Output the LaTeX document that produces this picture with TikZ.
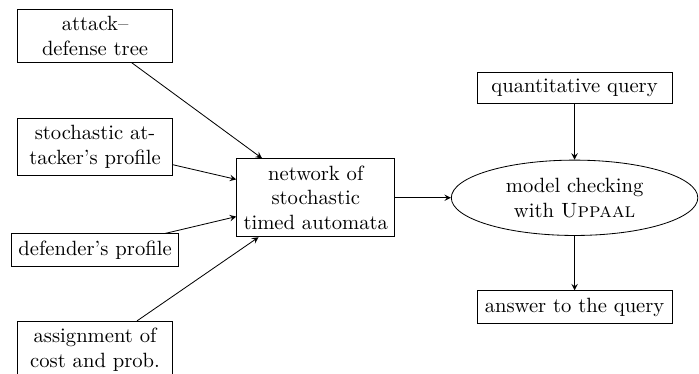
\documentclass[tikz,border=0pt]{standalone}
\usepackage{amsmath, amssymb}
\usepackage{tikz}
\usetikzlibrary{shapes.geometric}

\begin{document}
\begin{tikzpicture}[
  inbox/.style={draw, align=center, minimum width=2.64cm},
  outbox/.style={draw, align=center, minimum width=3.32cm},
  mcbox/.style={draw, ellipse, align=center, minimum width=4.2cm, minimum height=1.24cm},
  flow/.style={-stealth}]
  \clip (0,0) rectangle (11.91,-6.37);
  % inputs on the left
  \node[inbox] (ADT) at (1.62,-0.61) {attack--\\defense tree};
  \node[inbox] (ATK) at (1.62,-2.50) {stochastic at-\\tacker's profile};
  \node[draw] (DEF) at (1.62,-4.26) {defender's profile};
  \node[inbox] (COST) at (1.62,-5.96) {assignment of\\cost and prob.};
  % the model
  \node[draw, align=center] (NSTA) at (5.38,-3.37) {network of\\stochastic\\timed automata};
  \node[mcbox] (MC) at (9.79,-3.37) {model checking\\with \textsc{Uppaal}};
  \node[outbox] (Q) at (9.79,-1.50) {quantitative query};
  \node[outbox] (ANS) at (9.79,-5.23) {answer to the query};
  % arrows
  \draw[flow] (ADT) -- (NSTA);
  \draw[flow] (ATK) -- (NSTA);
  \draw[flow] (DEF) -- (NSTA);
  \draw[flow] (COST) -- (NSTA);
  \draw[flow] (NSTA) -- (MC);
  \draw[flow] (Q) -- (MC);
  \draw[flow] (MC) -- (ANS);
\end{tikzpicture}
\end{document}
